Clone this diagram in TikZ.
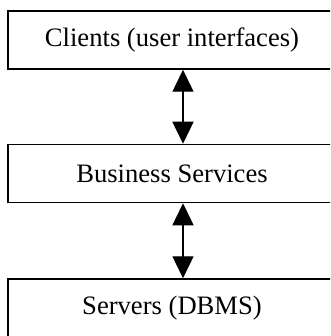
\documentclass[tikz,border=0pt]{standalone}
\usepackage{fontspec}
\setmainfont{Liberation Serif}
\usetikzlibrary{arrows.meta}
\begin{document}
\begin{tikzpicture}[x=1pt,y=-1pt]
            \clip (0,0) rectangle (330,336);
            \begin{scope}[every node/.style={draw=black,line width=1.5pt,minimum width=328pt,minimum height=58pt,inner sep=0pt,font=\fontsize{26.6}{30}\selectfont}]
            \node (C) at (172,40)  {Clients (user interfaces)};
            \node (B) at (172,173.5)  {Business Services};
            \node (S) at (172,308)  {Servers (DBMS)};
            \end{scope}
            \path[line width=1.4pt,{Triangle[width=21pt,length=22pt]}-{Triangle[width=21pt,length=22pt]}] ([xshift=11pt]C.south) edge ([xshift=11pt]B.north);
            \path[line width=1.4pt,{Triangle[width=21pt,length=22pt]}-{Triangle[width=21pt,length=22pt]}] ([xshift=11pt]B.south) edge ([xshift=11pt]S.north);
        \end{tikzpicture}
\end{document}
